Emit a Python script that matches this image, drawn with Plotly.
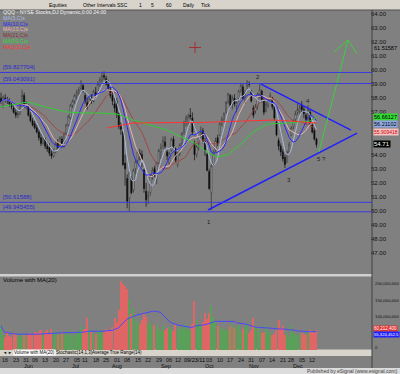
import pandas as pd
import plotly.graph_objects as go

W, H = 400, 374

# ---------------- data ----------------
holidays = ["2011-05-30", "2011-07-04", "2011-09-05", "2011-11-24"]
dates = [d for d in pd.bdate_range("2011-05-12", "2011-12-14")
         if d.strftime("%Y-%m-%d") not in holidays]
bar_index = list(range(len(dates)))

opens = [58.0, 57.4, 58.0, 57.9, 57.8, 57.6, 57.3, 57.0, 56.8, 56.9,
         57.5, 58.2, 57.4, 57.5, 56.8, 56.4, 56.2, 55.9, 55.6, 55.2,
         54.8, 55.0, 54.6, 54.5, 54.1, 53.9, 54.2, 54.8, 54.6, 55.1,
         54.6, 55.5, 56.1, 56.6, 57.5, 57.8, 58.2, 58.4, 58.7, 58.9,
         58.2, 57.7, 57.6, 58.0, 57.8, 58.4, 58.3, 59.0, 59.3, 59.6,
         59.4, 59.0, 58.6, 58.2, 57.6, 57.8, 56.9, 56.0, 55.6, 53.4,
         52.3, 50.9, 52.3, 51.5, 53.0, 53.6, 54.1, 54.0, 52.9, 51.4,
         51.0, 51.3, 52.5, 53.0, 52.2, 53.4, 54.2, 54.6, 54.9, 54.2,
         53.4, 54.3, 55.1, 54.4, 53.3, 54.1, 54.8, 55.6, 56.3, 56.2,
         56.8, 56.6, 54.8, 54.0, 54.8, 55.4, 55.7, 55.0, 54.0, 52.8,
         51.3, 53.3, 54.3, 55.2, 55.4, 56.2, 56.5, 57.0, 57.8, 58.2,
         57.6, 58.0, 57.5, 58.0, 58.6, 58.8, 58.3, 58.9, 59.0, 58.5,
         57.3, 57.1, 57.5, 58.3, 58.5, 57.9, 57.1, 57.5, 57.8, 58.0,
         57.4, 56.3, 55.0, 54.6, 54.2, 53.8, 53.5, 54.2, 55.4, 56.0,
         56.5, 57.0, 57.1, 57.5, 57.2, 56.8, 56.6, 57.0, 56.1, 55.7,
         55.1]
highs = [58.4, 58.2, 58.3, 58.1, 58.0, 57.8, 57.5, 57.2, 57.1, 57.6,
         58.6, 58.4, 57.8, 57.6, 57.0, 56.6, 56.4, 56.1, 55.8, 55.5,
         55.3, 55.2, 54.9, 54.8, 54.3, 54.4, 54.9, 55.1, 55.3, 55.3,
         55.6, 56.2, 56.8, 57.6, 57.9, 58.3, 58.6, 58.8, 59.3, 59.0,
         58.4, 58.0, 58.2, 58.3, 58.6, 58.8, 59.2, 59.5, 59.8, 59.9,
         59.6, 59.3, 58.8, 58.4, 58.0, 58.0, 57.0, 56.3, 55.7, 54.0,
         52.6, 52.8, 52.5, 53.0, 53.6, 54.4, 54.4, 54.3, 53.0, 52.0,
         51.4, 52.6, 53.1, 53.2, 53.5, 54.4, 54.8, 55.3, 55.3, 54.3,
         54.2, 55.2, 55.3, 54.5, 54.2, 54.8, 55.6, 56.4, 56.8, 56.9,
         57.3, 57.0, 55.0, 54.8, 55.4, 56.0, 55.9, 55.2, 54.1, 53.0,
         53.3, 54.3, 55.2, 55.4, 56.3, 56.7, 57.0, 57.8, 58.4, 58.3,
         58.2, 58.3, 57.9, 58.6, 59.1, 59.0, 58.6, 59.3, 59.2, 58.6,
         57.5, 57.6, 58.4, 59.0, 58.6, 58.0, 57.8, 58.0, 58.4, 58.1,
         57.5, 56.4, 55.2, 54.8, 54.4, 54.0, 54.3, 54.9, 56.0, 56.5,
         57.1, 57.6, 57.5, 57.8, 57.4, 57.0, 57.5, 57.2, 56.2, 55.9,
         55.2]
lows = [57.6, 57.3, 57.7, 57.6, 57.4, 57.2, 56.9, 56.6, 56.6, 56.8,
        57.4, 57.3, 57.2, 56.7, 56.3, 56.0, 55.8, 55.5, 55.0, 54.6,
        54.7, 54.4, 54.2, 53.9, 53.7, 53.8, 54.1, 54.4, 54.4, 54.5,
        54.5, 55.4, 56.0, 56.5, 57.3, 57.6, 57.9, 58.2, 58.6, 58.4,
        57.6, 57.2, 57.5, 57.6, 57.7, 58.0, 58.2, 58.8, 59.1, 59.3,
        58.9, 58.5, 58.0, 57.5, 57.0, 56.6, 55.8, 55.4, 53.2, 51.8,
        50.2, 49.95, 51.2, 51.3, 52.6, 53.4, 53.6, 53.1, 51.3, 50.3,
        50.5, 51.1, 52.2, 52.4, 51.9, 53.3, 53.7, 54.4, 54.4, 53.6,
        53.3, 54.2, 54.4, 53.4, 53.1, 53.9, 54.6, 55.4, 56.0, 56.0,
        56.5, 55.4, 53.6, 53.8, 54.3, 55.2, 54.8, 53.9, 52.8, 51.5,
        50.05, 53.2, 54.2, 54.6, 55.3, 56.0, 56.3, 56.9, 57.6, 57.3,
        57.2, 57.4, 57.0, 57.7, 58.4, 57.9, 57.6, 58.6, 58.8, 57.7,
        56.6, 56.9, 57.2, 58.0, 57.7, 56.8, 57.0, 57.3, 57.7, 57.2,
        56.4, 55.3, 54.3, 53.9, 53.5, 53.05, 53.4, 54.0, 55.3, 55.8,
        56.3, 56.8, 56.9, 57.0, 56.6, 56.2, 56.4, 56.0, 55.5, 55.0,
        54.5]
closes = [57.7, 58.1, 57.9, 57.8, 57.6, 57.4, 57.0, 56.8, 56.9, 57.5,
          58.2, 57.5, 57.6, 56.8, 56.4, 56.1, 55.9, 55.6, 55.2, 54.8,
          55.1, 54.6, 54.4, 54.1, 53.9, 54.2, 54.8, 54.5, 55.2, 54.6,
          55.5, 56.1, 56.7, 57.5, 57.8, 58.2, 58.4, 58.6, 59.1, 58.6,
          57.8, 57.4, 58.0, 57.8, 58.5, 58.2, 59.0, 59.3, 59.6, 59.5,
          59.0, 58.7, 58.2, 57.8, 57.3, 56.9, 56.0, 55.8, 53.3, 53.0,
          50.7, 52.7, 51.3, 52.9, 53.5, 54.2, 54.0, 53.6, 51.6, 50.8,
          51.1, 52.5, 52.9, 52.6, 53.4, 54.3, 54.5, 55.0, 54.6, 53.9,
          54.1, 55.1, 54.6, 53.6, 54.1, 54.7, 55.5, 56.3, 56.6, 56.7,
          56.7, 55.6, 54.0, 54.6, 55.2, 55.6, 54.9, 54.3, 52.9, 51.6,
          53.2, 54.2, 55.0, 54.8, 56.2, 56.5, 56.9, 57.7, 58.3, 57.5,
          58.0, 57.6, 57.7, 58.5, 58.9, 58.0, 58.4, 59.1, 59.0, 57.8,
          56.8, 57.4, 58.3, 58.6, 57.9, 57.0, 57.6, 57.9, 58.2, 57.4,
          56.6, 55.4, 54.6, 54.2, 53.7, 53.3, 54.2, 54.7, 55.9, 56.4,
          56.9, 57.2, 57.3, 57.2, 56.9, 56.5, 57.2, 56.2, 55.6, 55.1,
          54.71]
volume_millions = [73, 45, 40, 55, 42, 38, 50, 45, 40, 48,
                   52, 44, 38, 46, 52, 48, 55, 50, 58, 62,
                   50, 55, 60, 52, 65, 58, 48, 44, 50, 56,
                   47, 52, 45, 60, 42, 48, 54, 58, 70, 62,
                   65, 97, 60, 55, 50, 48, 62, 58, 52, 56,
                   64, 58, 62, 70, 96, 85, 120, 209, 200, 195,
                   185, 150, 110, 127, 95, 85, 80, 90, 109, 100,
                   80, 85, 70, 75, 80, 65, 58, 72, 62, 68,
                   70, 64, 58, 75, 70, 60, 66, 72, 80, 62,
                   60, 78, 148, 90, 75, 80, 85, 112, 95, 112,
                   133, 100, 85, 72, 70, 65, 62, 60, 64, 72,
                   80, 68, 70, 75, 55, 65, 70, 79, 50, 60,
                   97, 70, 68, 55, 50, 55, 75, 58, 50, 45,
                   48, 60, 91, 68, 72, 45, 50, 40, 75, 55,
                   48, 45, 52, 50, 48, 45, 55, 62, 58, 52,
                   60]

# MA(50) and MA(200) (bar index, price)
ma50_at = [0, 10, 12.4, 23.3, 31.4, 40, 47, 55.2, 62.8, 70.9, 79, 83.7, 91.3,
           98, 102.7, 107.5, 113.6, 119.8, 126.5, 136, 142.2, 146.9, 150]
ma50_val = [57.38, 57.66, 57.73, 57.30, 57.02, 56.95, 56.95, 56.88, 56.45, 56.10,
            55.74, 55.39, 54.89, 54.18, 53.83, 53.97, 54.68, 55.60, 56.17, 56.24,
            56.31, 56.38, 56.67]
ma200_at = [50.4, 55, 62.8, 78, 95, 115, 129, 138, 145.5, 150]
ma200_val = [55.89, 56.03, 56.24, 56.27, 56.28, 56.38, 56.45, 56.38, 56.31, 56.24]

# horizontal reference lines
hlines = [59.827704, 59.043091, 50.61588, 49.945455]
hline_labels = ["[59.827704]", "[59.043091]", "[50.61588]", "[49.945455]"]

# triangle / projection drawn on chart (bar index, price)
tri_upper = [(123.6, 59.0), (166.4, 55.74)]
tri_lower = [(98.4, 50.07), (169.3, 55.53)]
arrow_shaft = [(151.2, 54.2), (165.0, 62.13)]
arrow_head = [(158.3, 61.28), (165.0, 62.13), (169.3, 61.13)]
wave_labels = ["1", "2", "3", "4", "5 ?"]
wave_pos = [(98.9, 49.22), (122.2, 59.5), (137.0, 52.2), (146.0, 57.8), (152.2, 53.7)]

price_ticks = [47, 48, 49, 50, 51, 52, 53, 54, 57, 58, 59, 60, 61, 62, 63, 64]
vol_ticks = [0, 100e6, 150e6, 200e6]
month_labels = ["Jun", "Jul", "Aug", "Sep", "Oct", "Nov", "Dec"]

# ---------------- derived ----------------
s = pd.Series(closes)
ma5 = s.rolling(5, min_periods=1).mean()
ma10 = s.rolling(10, min_periods=1).mean()
ma13 = s.rolling(13, min_periods=1).mean()
ma21 = s.rolling(21, min_periods=1).mean()
volume = [v * 1e6 for v in volume_millions]
vol_ma = pd.Series(volume).rolling(20, min_periods=1).mean()
vol_colors = ["#5aa05a" if i == 0 or closes[i] >= closes[i - 1] else "#e06666"
              for i in bar_index]

# weekly tick labels (first trading day of each week from May 16)
tick_pos, tick_txt = [], []
prev_week = None
for i, d in enumerate(dates):
    wk = d.isocalendar()[1]
    if wk != prev_week:
        if d >= pd.Timestamp("2011-05-16") and d.strftime("%m-%d") not in ("09-19", "09-26"):
            tick_pos.append(i)
            tick_txt.append(d.strftime("%d"))
        prev_week = wk
month_pos = []
for m in range(6, 13):
    month_pos.append(next(i for i, d in enumerate(dates) if d.month == m) + 0.3)

def px(x):
    return x / W

def py(y):
    return 1 - y / H

FONT = "Liberation Sans, Arial, sans-serif"
XMAX = 176.4
XMIN = -0.48

fig = go.Figure()
fig.add_trace(go.Candlestick(
    x=bar_index, open=opens, high=highs, low=lows, close=closes,
    increasing=dict(line=dict(color="#303030", width=0.7), fillcolor="#ffffff"),
    decreasing=dict(line=dict(color="#101010", width=0.7), fillcolor="#000000"),
    whiskerwidth=0, showlegend=False, xaxis="x", yaxis="y"))

for ser, col in [(ma21, "#a04848"), (ma13, "#e8b4b4"), (ma5, "#a8bce0"), (ma10, "#2828ff")]:
    fig.add_trace(go.Scatter(x=bar_index, y=ser, mode="lines",
                             line=dict(color=col, width=1), showlegend=False,
                             hoverinfo="skip", xaxis="x", yaxis="y"))
fig.add_trace(go.Scatter(x=ma50_at, y=ma50_val, mode="lines", line=dict(color="#33cc33", width=1),
                         showlegend=False, xaxis="x", yaxis="y"))
fig.add_trace(go.Scatter(x=ma200_at, y=ma200_val, mode="lines", line=dict(color="#ff3333", width=1),
                         showlegend=False, xaxis="x", yaxis="y"))

# trendlines
for seg, col, w in [(tri_upper, "#1f1fff", 1.5), (tri_lower, "#1f1fff", 1.5),
                    (arrow_shaft, "#3fcf3f", 1), (arrow_head, "#3fcf3f", 1)]:
    fig.add_trace(go.Scatter(x=[p[0] for p in seg], y=[p[1] for p in seg], mode="lines",
                             line=dict(color=col, width=w), showlegend=False,
                             xaxis="x", yaxis="y"))

# volume
fig.add_trace(go.Bar(x=bar_index, y=volume, marker=dict(color=vol_colors, line=dict(width=0)),
                     width=0.55, showlegend=False, xaxis="x", yaxis="y2"))
fig.add_trace(go.Scatter(x=bar_index, y=vol_ma, mode="lines", line=dict(color="#4848ff", width=1),
                         showlegend=False, xaxis="x", yaxis="y2"))

shapes = []
# toolbar
shapes.append(dict(type="rect", xref="paper", yref="paper", x0=0, x1=1, y0=py(10), y1=1,
                   fillcolor="#d8d4cc", line=dict(width=0), layer="above"))
shapes.append(dict(type="line", xref="paper", yref="paper", x0=0, x1=1, y0=py(10), y1=py(10),
                   line=dict(color="#505050", width=1), layer="above"))
# panel separator
shapes.append(dict(type="rect", xref="paper", yref="paper", x0=0, x1=px(372), y0=py(276.5), y1=py(274),
                   fillcolor="#d0d0d0", line=dict(width=0), layer="above"))
# tab bar
shapes.append(dict(type="rect", xref="paper", yref="paper", x0=0, x1=px(372), y0=py(356), y1=py(349.5),
                   fillcolor="#d8d4cc", line=dict(width=0), layer="below"))
# footer
shapes.append(dict(type="rect", xref="paper", yref="paper", x0=0, x1=1, y0=0, y1=py(368),
                   fillcolor="#dcdcdc", line=dict(width=0), layer="below"))
# right axis divider
shapes.append(dict(type="line", xref="paper", yref="paper", x0=px(372), x1=px(372), y0=py(368), y1=py(10),
                   line=dict(color="#404040", width=1), layer="above"))
# horizontal levels
for lv in hlines:
    shapes.append(dict(type="line", xref="x domain", yref="y", x0=0, x1=1, y0=lv, y1=lv,
                       line=dict(color="#3a3ae0", width=1)))
# crosshair
shapes.append(dict(type="line", xref="paper", yref="paper", x0=px(189), x1=px(201), y0=py(47.5), y1=py(47.5),
                   line=dict(color="#a03030", width=1)))
shapes.append(dict(type="line", xref="paper", yref="paper", x0=px(195), x1=px(195), y0=py(42), y1=py(53),
                   line=dict(color="#a03030", width=1)))

ann = []
def text(x, y, t, color="black", size=6, xanchor="left", bg=None, xref="paper", yref="paper"):
    d = dict(x=x, y=y, xref=xref, yref=yref, text=t, showarrow=False, xanchor=xanchor,
             yanchor="middle", font=dict(family=FONT, size=size, color=color), borderpad=0)
    if bg:
        d["bgcolor"] = bg
    ann.append(d)

# toolbar text
for xx, t in [(48, "Equities"), (82, "Other Intervals"), (116, "SSC"), (138, "1"), (150, "5"),
              (165, "60"), (182, "Daily"), (200, "Tick")]:
    text(px(xx), py(5), t, size=5)
# title + legend
text(px(2), py(12.2), "QQQ - NYSE Stocks,DJ Dynamic,0:00 24:00", color="#f0f0f0", size=5.2)
for i, (t, c) in enumerate([("MA(5,C)s", "#a8bce0"), ("MA(10,C)s", "#2828ff"), ("MA(13,C)s", "#f0b8b8"),
                            ("MA(21,C)s", "#8b2e2e"), ("MA(50,C)s", "#33dd33"), ("MA(200,C)s", "#ff3333")]):
    text(px(2), py(17.8 + 5.8 * i), t, color=c, size=5.2)
# level labels
for lv, lab in zip(hlines, hline_labels):
    ann.append(dict(x=0.004, y=lv, xref="x domain", yref="y", text=lab, showarrow=False,
                    xanchor="left", yanchor="bottom", font=dict(family=FONT, size=6, color="#2a2ad0")))
# wave labels
for t, (wx, wy) in zip(wave_labels, wave_pos):
    ann.append(dict(x=wx, y=wy, xref="x", yref="y", text=t, showarrow=False, yanchor="middle",
                    font=dict(family=FONT, size=6, color="#202020")))
# volume axis labels (positioned on the volume scale)
for vt in vol_ticks:
    ann.append(dict(x=px(373), y=max(vt, 9e6), xref="paper", yref="y2", text=f"{int(vt):,}",
                    showarrow=False, xanchor="left", yanchor="middle",
                    font=dict(family=FONT, size=4.3, color="#101010")))
# date axis labels (positioned on the bar scale)
for tp, tt in zip(tick_pos, tick_txt):
    ann.append(dict(x=tp, y=py(359.5), xref="x", yref="paper", text=tt, showarrow=False,
                    yanchor="middle", font=dict(family=FONT, size=5.5, color="#101010")))
# right-side value boxes
text(px(373), py(48), "61.51587", size=5.5)
text(px(373), py(117), "56.66127", color="#000000", bg="#33dd33", size=5.5)
text(px(373), py(123.5), "56.21102", color="#000000", bg="#8fa8e0", size=5.5)
text(px(373), py(132), "55.909418", color="#d00000", bg="#f4c4c4", size=5)
text(px(373), py(144), "54.71", color="#ffffff", bg="#000000", size=6)
text(px(373), py(328.5), "60,212,400", color="#ffffff", bg="#e03030", size=4.5)
text(px(373), py(334), "55,324,452.5", color="#ffffff", bg="#2020ff", size=4.2)
# volume title
text(px(2), py(279.5), "Volume with MA(20)", size=6)
# tab bar
text(px(2), py(352.7), "◄ ►", size=4)
text(px(13), py(352.7), "Volume with MA(20)", size=4.5, bg="#ffffff")
text(px(55), py(352.7), "Stochastic(14,1,3)", size=4.5)
text(px(91), py(352.7), "Average True Range(14)", size=4.5)
# months
for mp, mt in zip(month_pos, month_labels):
    ann.append(dict(x=mp, y=py(365.5), xref="x", yref="paper", text=mt, showarrow=False,
                    yanchor="middle", font=dict(family=FONT, size=5.5, color="#101010")))
text(px(194), py(359.5), "09/23/11", size=5.5, xanchor="center", bg="#808080")
text(px(398), py(371), "Published by eSignal (www.esignal.com)", size=5, xanchor="right", color="#404040")

fig.update_layout(
    width=W, height=H, margin=dict(l=0, r=0, t=0, b=0),
    paper_bgcolor="#808080", plot_bgcolor="#808080",
    showlegend=False, bargap=0,
    xaxis=dict(domain=[0, px(372)], range=[XMIN, XMAX], anchor="y2",
               showticklabels=False, ticks="", showgrid=False,
               zeroline=False, showline=False, rangeslider=dict(visible=False)),
    yaxis=dict(domain=[py(275), py(10)], range=[45.46, 64.26], side="right", anchor="x",
               tickvals=price_ticks, tickformat=".2f", ticks="", showgrid=False, zeroline=False,
               tickfont=dict(family=FONT, size=6, color="#101010"), ticklabelstandoff=-2),
    yaxis2=dict(domain=[py(350), py(277)], range=[0, 221e6], side="right", anchor="x",
                showticklabels=False, ticks="", showgrid=False, zeroline=False),
    shapes=shapes, annotations=ann,
)
fig.write_html("out.html", config={"displayModeBar": False},
               post_script="document.body.style.margin='0';document.body.style.overflow='hidden';")
